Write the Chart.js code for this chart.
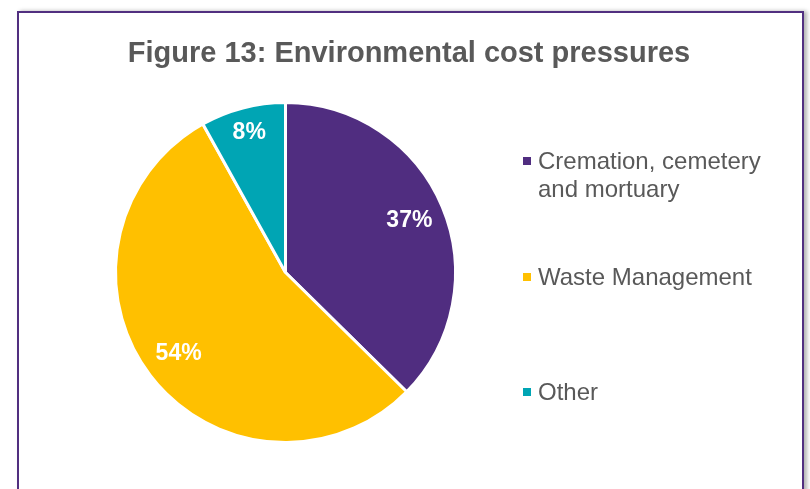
<!DOCTYPE html>
<html>
<head>
<meta charset="utf-8">
<script src="https://cdn.jsdelivr.net/npm/chart.js@4.4.1/dist/chart.umd.min.js"></script>
<style>
  html, body { margin: 0; padding: 0; background: #fff; overflow: hidden; }
  .frame {
    position: absolute; left: 17px; top: 11px;
    width: 783px; height: 490px;
    border: 2px solid #512f80; border-bottom: none;
    box-shadow: 3px 0 4px rgba(0,0,0,0.3);
    background: #fff;
  }
  canvas { display: block; }
</style>
</head>
<body>
<div class="frame">
  <canvas id="costChart" width="783" height="478"></canvas>
</div>
<script>
// Parts des pressions de coût environnementales (%)
const titleText = 'Figure 13: Environmental cost pressures';
const categories = ['Cremation, cemetery and mortuary', 'Waste Management', 'Other'];
const shares = [37, 54, 8];
const sliceColors = ['#502d80', '#ffc000', '#00a5b4'];

const TEXT_GREY = '#595959';
const FONT = '"Liberation Sans", Arial, sans-serif';

// Découpe un libellé en lignes selon une largeur max
function wrapText(ctx, text, maxW) {
  const words = text.split(' ');
  const lines = [];
  let cur = '';
  words.forEach(w => {
    const test = cur ? cur + ' ' + w : w;
    if (cur && ctx.measureText(test).width > maxW) {
      lines.push(cur);
      cur = w;
    } else {
      cur = test;
    }
  });
  if (cur) lines.push(cur);
  return lines;
}

// Titre + légende dessinés à la main (positions façon Excel)
const sideText = {
  id: 'sideText',
  afterDraw(chart) {
    const ctx = chart.ctx;
    ctx.save();
    ctx.fillStyle = TEXT_GREY;
    ctx.textAlign = 'center';
    ctx.textBaseline = 'alphabetic';
    ctx.font = `bold 29px ${FONT}`;
    ctx.fillText(titleText, 390, 49);

    const rows = [156, 272, 387]; // lignes de base des entrées
    ctx.textAlign = 'left';
    ctx.font = `24px ${FONT}`;
    chart.data.labels.forEach((lab, i) => {
      const y = rows[i];
      ctx.fillStyle = sliceColors[i];
      ctx.fillRect(504, y - 12, 8, 8);
      ctx.fillStyle = TEXT_GREY;
      wrapText(ctx, lab, 250).forEach((ln, k) => ctx.fillText(ln, 519, y + k * 28));
    });
    ctx.restore();
  }
};

// Étiquettes de pourcentage dans les parts
const sliceLabels = {
  id: 'sliceLabels',
  afterDatasetsDraw(chart) {
    const ctx = chart.ctx;
    const meta = chart.getDatasetMeta(0);
    ctx.save();
    ctx.fillStyle = '#ffffff';
    ctx.font = `bold 23px ${FONT}`;
    ctx.textAlign = 'center';
    ctx.textBaseline = 'middle';
    meta.data.forEach((arc, i) => {
      const { x, y, startAngle, endAngle, outerRadius } = arc.getProps(['x', 'y', 'startAngle', 'endAngle', 'outerRadius'], true);
      const mid = (startAngle + endAngle) / 2;
      const f = (endAngle - startAngle) < Math.PI / 4 ? 0.85 : 0.79;
      ctx.fillText(`${shares[i]}%`, x + Math.cos(mid) * outerRadius * f, y + Math.sin(mid) * outerRadius * f);
    });
    ctx.restore();
  }
};

new Chart(document.getElementById('costChart'), {
  type: 'pie',
  data: {
    labels: categories,
    datasets: [{
      data: shares,
      backgroundColor: sliceColors,
      borderColor: '#ffffff',
      borderWidth: 3,
      hoverBorderWidth: 3,
      hoverOffset: 0
    }]
  },
  options: {
    responsive: false,
    animation: false,
    layout: { padding: { left: 95, top: 88, right: 345, bottom: 47 } },
    plugins: {
      legend: { display: false },
      title: { display: false },
      tooltip: { enabled: false }
    }
  },
  plugins: [sliceLabels, sideText]
});
</script>
</body>
</html>
